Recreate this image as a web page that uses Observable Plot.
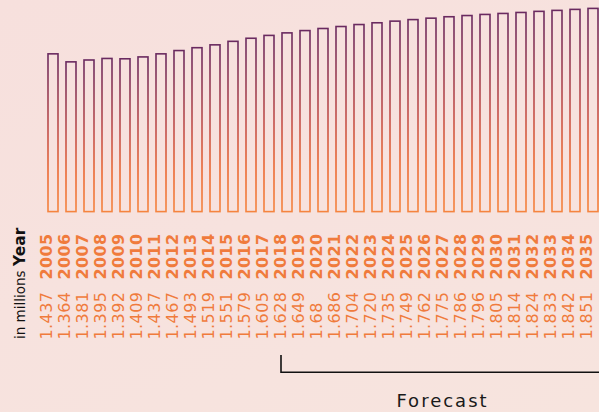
<!DOCTYPE html>
<html>
<head>
<meta charset="utf-8">
<script src="https://cdn.jsdelivr.net/npm/d3@7"></script>
<script src="https://cdn.jsdelivr.net/npm/@observablehq/plot@0.6"></script>
<style>
  html, body { margin: 0; padding: 0; }
  body { width: 599px; height: 412px; overflow: hidden;
         background: linear-gradient(160deg, #f7e0dd 0%, #f7e2de 50%, #f7e4de 100%); }
  #chart svg { background: transparent !important; display: block; }
  .lbl text { letter-spacing: 0.4px; }
</style>
</head>
<body>
<div id="chart"></div>
<script>
const years = ["2005","2006","2007","2008","2009","2010","2011","2012","2013","2014","2015","2016","2017","2018","2019","2020","2021","2022","2023","2024","2025","2026","2027","2028","2029","2030","2031","2032","2033","2034","2035"];
const values = [1.437,1.364,1.381,1.395,1.392,1.409,1.437,1.467,1.493,1.519,1.551,1.579,1.605,1.628,1.649,1.668,1.686,1.704,1.720,1.735,1.749,1.762,1.775,1.786,1.796,1.805,1.814,1.824,1.833,1.842,1.851];
const valueLabels = ["1.437","1.364","1.381","1.395","1.392","1.409","1.437","1.467","1.493","1.519","1.551","1.579","1.605","1.628","1.649","1.68","1.686","1.704","1.720","1.735","1.749","1.762","1.775","1.786","1.796","1.805","1.814","1.824","1.833","1.842","1.851"];
const forecastStart = "2018";

const data = years.map((y, i) => ({year: y, value: values[i], label: valueLabels[i]}));
const orange = "#f07b3c";
const font = "DejaVu Sans, sans-serif";

const defs = () => {
  const d = d3.create("svg:defs");
  const g = d.append("linearGradient").attr("id", "barGrad")
    .attr("x1", 0).attr("y1", 0).attr("x2", 0).attr("y2", 1);
  g.append("stop").attr("offset", "0%").attr("stop-color", "#6a2a60");
  g.append("stop").attr("offset", "50%").attr("stop-color", "#c4504a");
  g.append("stop").attr("offset", "75%").attr("stop-color", "#ec6a34");
  g.append("stop").attr("offset", "100%").attr("stop-color", "#f5843f");
  return d.node();
};

const plot = Plot.plot({
  width: 599,
  height: 412,
  marginTop: 8.4,
  marginBottom: 200.4,
  marginLeft: 0,
  marginRight: 0,
  style: {background: "transparent", fontFamily: font},
  x: {type: "band", domain: years, range: [45.7, 599.3], paddingInner: 0.448, paddingOuter: 0, axis: null},
  y: {domain: [0, 1.851], axis: null},
  marks: [
    defs,
    Plot.barY(data, {x: "year", y: "value", fill: "none", stroke: "url(#barGrad)", strokeWidth: 1.6}),
    Plot.text(data, {x: "year", text: "year", frameAnchor: "bottom", rotate: -90, textAnchor: "start",
      dy: 67.4, dx: -1.7, fill: orange, fontWeight: "bold", fontSize: 16, fontFamily: font, className: "lbl"}),
    Plot.text(data, {x: "year", text: "label", frameAnchor: "bottom", rotate: -90, textAnchor: "start",
      dy: 127.4, dx: -1.7, fill: orange, fontSize: 16, fontFamily: font, className: "lbl"})
  ]
});

document.getElementById("chart").appendChild(plot);

const svg = d3.select(plot);
const xs = plot.scale("x");
const fx = xs.apply(forecastStart) - 1;

// axis label "in millions Year"
const t = svg.append("text")
  .attr("transform", "translate(24.5,339) rotate(-90)")
  .attr("text-anchor", "start")
  .attr("font-family", font).attr("font-size", 13.5).attr("fill", "#111");
t.append("tspan").text("in millions ");
t.append("tspan").attr("font-weight", "bold").attr("font-size", 15.5).text("Year");

// forecast bracket
svg.append("path")
  .attr("d", `M${fx},355V372.3H${620}`)
  .attr("fill", "none").attr("stroke", "#111").attr("stroke-width", 1.6);

svg.append("text")
  .attr("x", 442.5).attr("y", 406.7)
  .attr("text-anchor", "middle")
  .attr("font-family", font).attr("font-size", 18).attr("letter-spacing", "2px")
  .attr("fill", "#1a1a1a")
  .text("Forecast");
</script>
</body>
</html>
